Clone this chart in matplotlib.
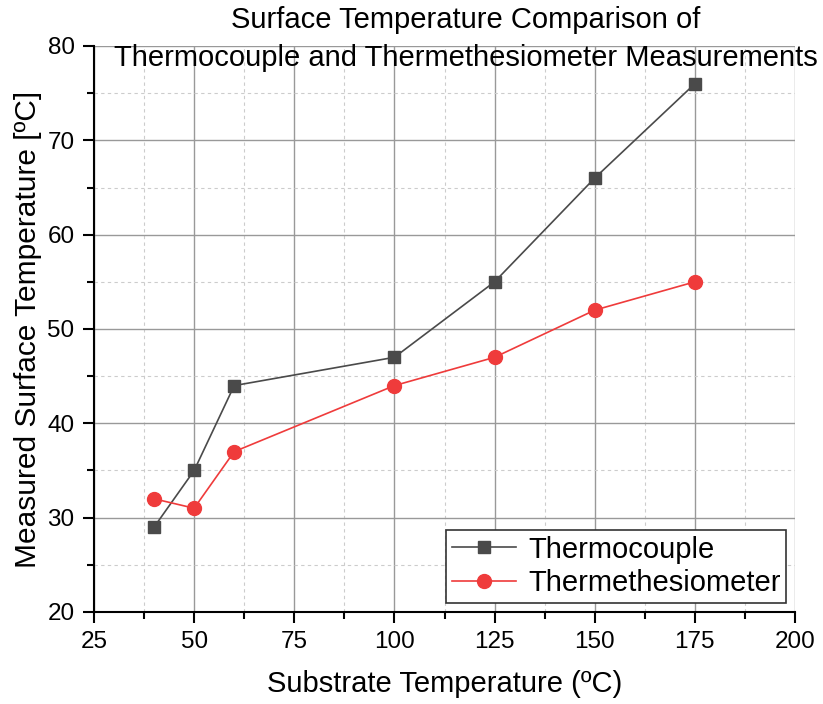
import numpy as np
import matplotlib
matplotlib.use('Agg')
import matplotlib.pyplot as plt
from matplotlib.ticker import MultipleLocator

plt.rcParams['font.family'] = ['Liberation Sans', 'DejaVu Sans']

# data
substrate = [40, 50, 60, 100, 125, 150, 175]
thermocouple = [29, 35, 44, 47, 55, 66, 76]
thermethesiometer = [32, 31, 37, 44, 47, 52, 55]

fig = plt.figure(figsize=(8.23, 7.04), dpi=100)
ax = fig.add_axes([94/823, 1-612/704, (795-94)/823, (612-46)/704])

ax.plot(substrate, thermocouple, '-s', color='#4a4a4a', lw=1.2, ms=9,
        label='Thermocouple', zorder=3)
ax.plot(substrate, thermethesiometer, '-o', color='#ef3b3b', lw=1.2, ms=10,
        label='Thermethesiometer', zorder=3)

ax.set_xlim(25, 200)
ax.set_ylim(20, 80)
ax.xaxis.set_major_locator(MultipleLocator(25))
ax.xaxis.set_minor_locator(MultipleLocator(12.5))
ax.yaxis.set_major_locator(MultipleLocator(10))
ax.yaxis.set_minor_locator(MultipleLocator(5))

ax.grid(which='major', color='#999999', lw=1.0, ls='-')
ax.grid(which='minor', color='#cccccc', lw=0.8, ls=(0, (3, 3)))
ax.set_axisbelow(True)

for s in ['top', 'right']:
    ax.spines[s].set_visible(False)
for s in ['left', 'bottom']:
    ax.spines[s].set_linewidth(1.5)

ax.tick_params(which='major', direction='out', length=8, width=1.5, labelsize=17.5, pad=6)
ax.tick_params(which='minor', direction='out', length=5, width=1.5)

ax.set_xlabel('Substrate Temperature (ºC)', fontsize=21, labelpad=12)
ax.set_ylabel('Measured Surface Temperature [ºC]', fontsize=21.5, labelpad=4)

fig.text(466/823, 1-20/704, 'Surface Temperature Comparison of', ha='center', va='center', fontsize=21)
fig.text(466/823, 1-58/704, 'Thermocouple and Thermethesiometer Measurements', ha='center', va='center', fontsize=21)

leg = ax.legend(loc='lower right', fontsize=21, frameon=True, fancybox=False,
                edgecolor='#333333', framealpha=1, borderaxespad=0.3,
                handlelength=2.2, handletextpad=0.4, borderpad=0.2, labelspacing=0.2)
leg.get_frame().set_linewidth(1.2)

fig.savefig('out.png', dpi=100)
